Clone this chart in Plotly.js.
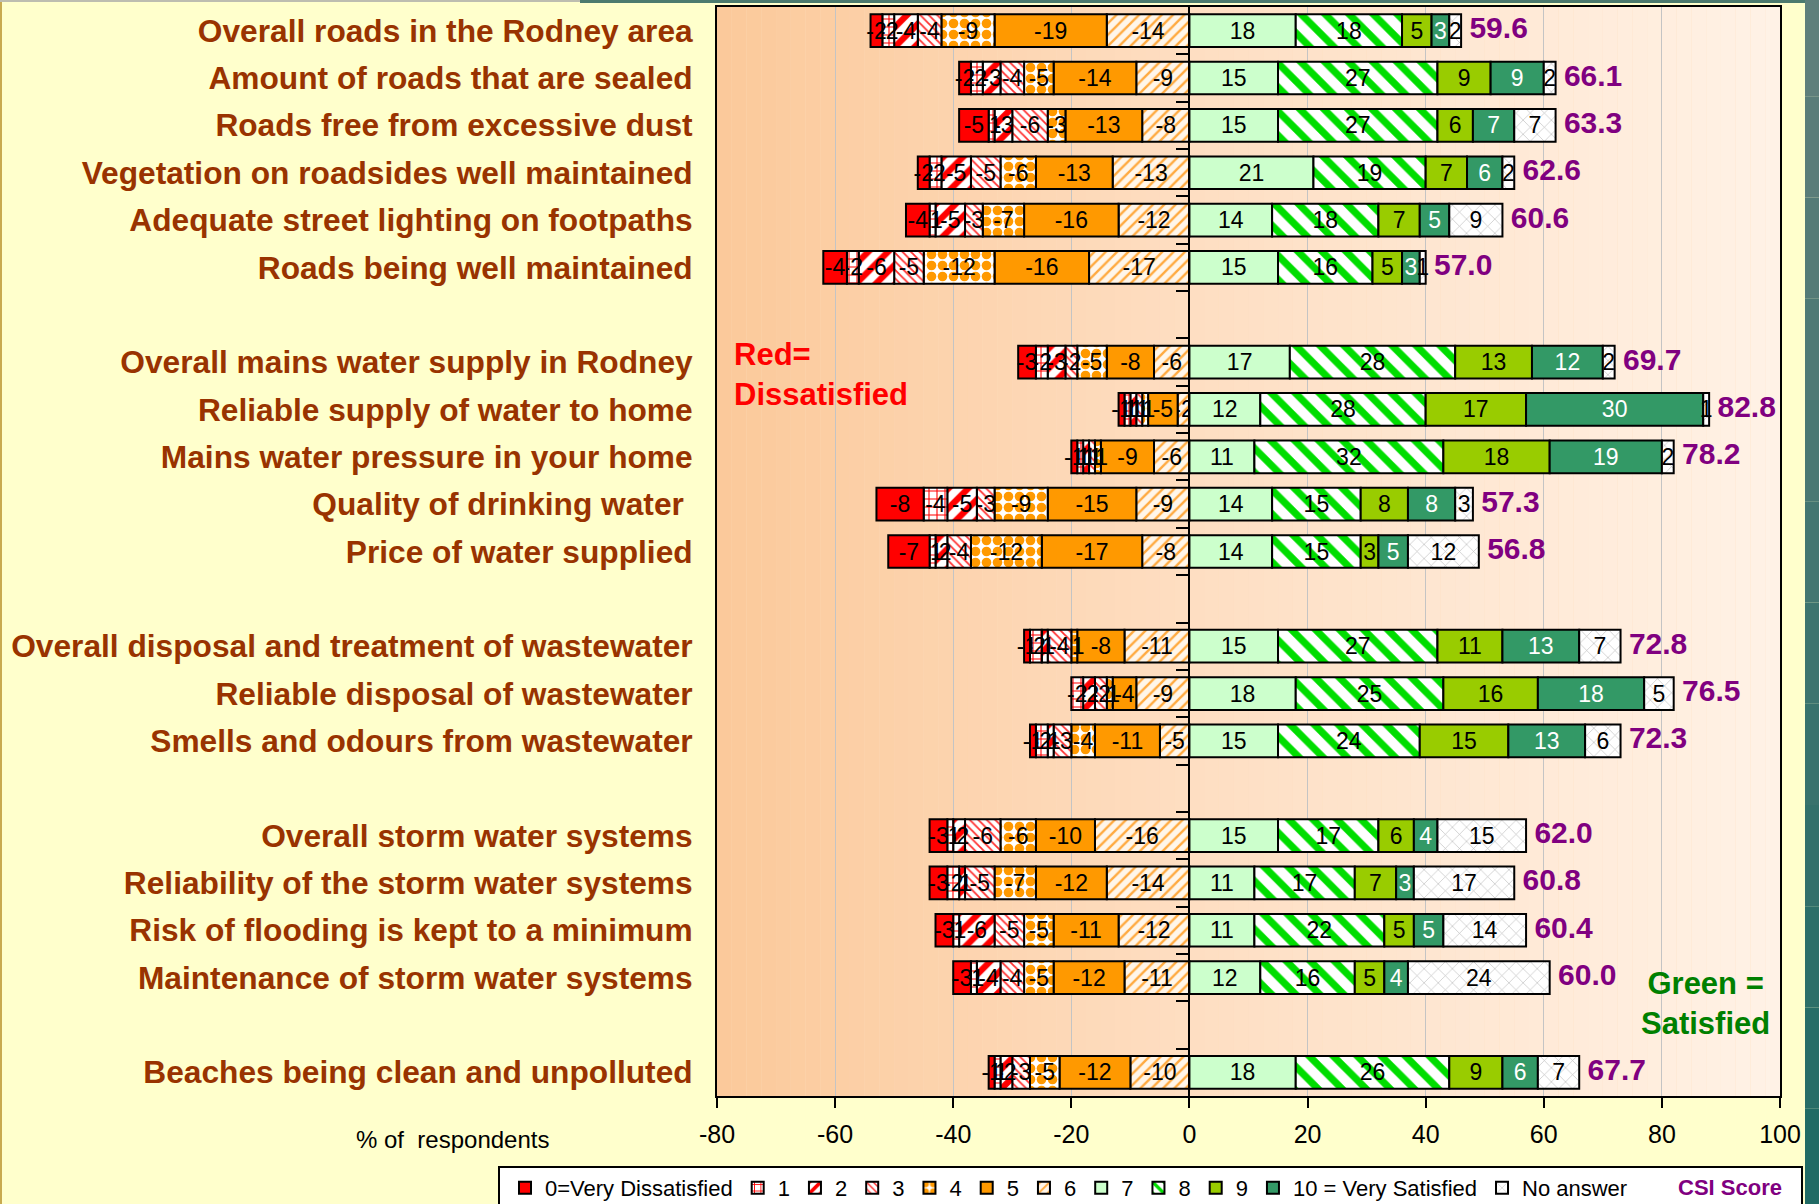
<!DOCTYPE html>
<html>
<head>
<meta charset="utf-8">
<script src="https://cdn.plot.ly/plotly-3.0.1.min.js"></script>
<style>
html,body{margin:0;padding:0;background:#FFFFCC;}
#chart{width:1819px;height:1204px;}
</style>
</head>
<body>
<div id="chart"></div>
<script>
// ---------------- DATA ----------------
const categories = [
  "Overall roads in the Rodney area",
  "Amount of roads that are sealed",
  "Roads free from excessive dust",
  "Vegetation on roadsides well maintained",
  "Adequate street lighting on footpaths",
  "Roads being well maintained",
  "Overall mains water supply in Rodney",
  "Reliable supply of water to home",
  "Mains water pressure in your home",
  "Quality of drinking water\u00a0",
  "Price of water supplied",
  "Overall disposal and treatment of wastewater",
  "Reliable disposal of wastewater",
  "Smells and odours from wastewater",
  "Overall storm water systems",
  "Reliability of the storm water systems",
  "Risk of flooding is kept to a minimum",
  "Maintenance of storm water systems",
  "Beaches being clean and unpolluted"
];
const groupSizes = [6, 5, 3, 4, 1];

const seriesNames = ["0=Very Dissatisfied", "1", "2", "3", "4", "5", "6", "7", "8", "9", "10 = Very Satisfied", "No answer"];

const s0  = [-2, -2, -5, -2, -4, -4, -3, -1, -1, -8, -7, -1, 0, -1, -3, -3, -3, -3, -1];
const s1  = [-2, -2, -1, -2, -1, -2, -2, -1, -1, -4, -1, -2, -2, -2, -1, -2, -1, -1, -1];
const s2  = [-4, -3, -3, -5, -5, -6, -3, -1, -1, -5, -2, -1, -2, -1, -2, -1, -6, -4, -2];
const s3  = [-4, -4, -6, -5, -3, -5, -2, -1, -1, -3, -4, -4, -2, -3, -6, -5, -5, -4, -3];
const s4  = [-9, -5, -3, -6, -7, -12, -5, -1, -1, -9, -12, -1, -1, -4, -6, -7, -5, -5, -5];
const s5  = [-19, -14, -13, -13, -16, -16, -8, -5, -9, -15, -17, -8, -4, -11, -10, -12, -11, -12, -12];
const s6  = [-14, -9, -8, -13, -12, -17, -6, -2, -6, -9, -8, -11, -9, -5, -16, -14, -12, -11, -10];
const s7  = [18, 15, 15, 21, 14, 15, 17, 12, 11, 14, 14, 15, 18, 15, 15, 11, 11, 12, 18];
const s8  = [18, 27, 27, 19, 18, 16, 28, 28, 32, 15, 15, 27, 25, 24, 17, 17, 22, 16, 26];
const s9  = [5, 9, 6, 7, 7, 5, 13, 17, 18, 8, 3, 11, 16, 15, 6, 7, 5, 5, 9];
const s10 = [3, 9, 7, 6, 5, 3, 12, 30, 19, 8, 5, 13, 18, 13, 4, 3, 5, 4, 6];
const sNA = [2, 2, 7, 2, 9, 1, 2, 1, 2, 3, 12, 7, 5, 6, 15, 17, 14, 24, 7];
const csi = [59.6, 66.1, 63.3, 62.6, 60.6, 57.0, 69.7, 82.8, 78.2, 57.3, 56.8, 72.8, 76.5, 72.3, 62.0, 60.8, 60.4, 60.0, 67.7];

const xTicks = [-80, -60, -40, -20, 0, 20, 40, 60, 80, 100];

// ---------------- STYLES ----------------
const FONT = "Liberation Sans, Arial, sans-serif";
const styles = [
  {color: "#FF0000"},
  {color: "#FFFFFF", pattern: {shape: "+", fgcolor: "#FF0000", bgcolor: "#FFFFFF", size: 8, solidity: 0.25}},
  {color: "#FFFFFF", pattern: {shape: "/", fgcolor: "#FF0000", bgcolor: "#FFFFFF", size: 14, solidity: 0.45}},
  {color: "#FFFFFF", pattern: {shape: "\\", fgcolor: "#FF3030", bgcolor: "#FFFFFF", size: 6, solidity: 0.3}},
  {color: "#FFFFFF", pattern: {shape: ".", fgcolor: "#FF9900", bgcolor: "#FFFFFF", size: 11, solidity: 0.6}},
  {color: "#FF9900"},
  {color: "#FFF6EA", pattern: {shape: "/", fgcolor: "#FFAA40", bgcolor: "#FFF6EA", size: 8, solidity: 0.3}},
  {color: "#CCFFCC"},
  {color: "#FFFFFF", pattern: {shape: "\\", fgcolor: "#00DD00", bgcolor: "#FFFFFF", size: 17, solidity: 0.42}},
  {color: "#99CC00"},
  {color: "#339966"},
  {color: "#FFFFFF", pattern: {shape: "x", fgcolor: "#BBBBBB", bgcolor: "#FFFFFF", size: 10, solidity: 0.12}}
];

// ---------------- BUILD ----------------
const series = [s0, s1, s2, s3, s4, s5, s6, s7, s8, s9, s10, sNA];

const slots = [];
let k = 0;
groupSizes.forEach(n => { for (let i = 0; i < n; i++) slots.push(k++); k++; });
const nSlots = slots[slots.length - 1] + 1;
const boundaries = [];
for (let b = 0; b < nSlots - 1; b++) boundaries.push(b + 0.5);

const drawOrder = [6, 5, 4, 3, 2, 1, 0, 7, 8, 9, 10, 11];
const traces = drawOrder.map(i => {
  const st = styles[i];
  const marker = {color: st.color, line: {color: "#000000", width: 2}};
  if (st.pattern) marker.pattern = Object.assign({fillmode: "replace"}, st.pattern);
  return {
    type: "bar", orientation: "h",
    x: series[i], y: slots,
    name: seriesNames[i], legendrank: i + 1,
    text: series[i].map(v => String(v)),
    textposition: "inside", insidetextanchor: "middle", textangle: 0,
    constraintext: "none", cliponaxis: false,
    textfont: {family: FONT, size: 23, color: i === 10 ? "#FFFFFF" : "#000000"},
    marker: marker, hoverinfo: "skip"
  };
});

const posTotals = slots.map((_, j) => s7[j] + s8[j] + s9[j] + s10[j] + sNA[j]);
traces.push({
  type: "scatter", mode: "text", yaxis: "y2",
  x: posTotals, y: slots,
  text: csi.map(v => "\u00a0" + v.toFixed(1)),
  textposition: "middle right",
  textfont: {family: FONT, size: 30, color: "#800080", weight: "bold"},
  name: "CSI Score", showlegend: false, cliponaxis: false, hoverinfo: "skip"
});

// pixel -> paper helpers for decoration
const L = 717, T = 7, W = 1063, H = 1089;
const px = v => (v - L) / W;
const py = v => (T + H - v) / H;

const shapes = [];
// plot background gradient
function lerp(a, b, t) { return Math.round(a + (b - a) * t); }
const cA = [251, 201, 154], cB = [254, 222, 194], cC = [255, 242, 230];
for (let x = -80; x < 100; x += 2.5) {
  const m = x + 1.25;
  let c;
  if (m < 0) { const t = (m + 80) / 80; c = [0,1,2].map(q => lerp(cA[q], cB[q], t)); }
  else { const t = m / 100; c = [0,1,2].map(q => lerp(cB[q], cC[q], t)); }
  shapes.push({type: "rect", xref: "x", yref: "paper", x0: x, x1: x + 2.5, y0: 0, y1: 1,
    fillcolor: `rgb(${c[0]},${c[1]},${c[2]})`, line: {width: 0}, layer: "below"});
}
// slide decorations
shapes.push({type: "rect", xref: "paper", yref: "paper", x0: px(-5), x1: px(2), y0: py(1210), y1: py(-5),
  fillcolor: "#C8AA50", line: {width: 0}, layer: "above"});
shapes.push({type: "rect", xref: "paper", yref: "paper", x0: px(-5), x1: px(580), y0: py(2), y1: py(-5),
  fillcolor: "#BDBDB0", line: {width: 0}, layer: "above"});
shapes.push({type: "rect", xref: "paper", yref: "paper", x0: px(580), x1: px(1825), y0: py(3), y1: py(-5),
  fillcolor: "#4C7A6E", line: {width: 0}, layer: "above"});
const tTop = [98, 128, 124], tBot = [30, 106, 100];
for (let b = 0; b < 12; b++) {
  const t = (b + 0.5) / 12;
  const c = [0,1,2].map(q => lerp(tTop[q], tBot[q], t));
  shapes.push({type: "rect", xref: "paper", yref: "paper", x0: px(1805), x1: px(1830),
    y0: py(-5 + (b + 1) * 1215 / 12), y1: py(-5 + b * 1215 / 12),
    fillcolor: `rgb(${c[0]},${c[1]},${c[2]})`, line: {width: 0}, layer: "above"});
}
// legend box
shapes.push({type: "rect", xref: "paper", yref: "paper", x0: px(499), x1: px(1802), y0: py(1220), y1: py(1167),
  fillcolor: "#FFFFFF", line: {color: "#000000", width: 2}, layer: "above"});

const annotations = [
  {xref: "paper", yref: "paper", x: px(732), y: py(335), xanchor: "left", yanchor: "top", align: "left",
   text: "Red=<br>Dissatisfied", showarrow: false, font: {family: FONT, size: 31, color: "#FF0000", weight: "bold"}},
  {xref: "paper", yref: "paper", x: px(1705), y: py(964), xanchor: "center", yanchor: "top", align: "center",
   text: "Green =<br>Satisfied", showarrow: false, font: {family: FONT, size: 31, color: "#008000", weight: "bold"}},
  {xref: "paper", yref: "paper", x: px(452), y: py(1139), xanchor: "center", yanchor: "middle",
   text: "% of\u00a0 respondents", showarrow: false, font: {family: FONT, size: 24, color: "#000000"}},
  {xref: "paper", yref: "paper", x: px(1730), y: py(1187), xanchor: "center", yanchor: "middle",
   text: "CSI Score", showarrow: false, font: {family: FONT, size: 22, color: "#800080", weight: "bold"}}
];

const layout = {
  width: 1819, height: 1204,
  paper_bgcolor: "#FFFFCC", plot_bgcolor: "#FDDDBE",
  margin: {l: L, r: 1819 - L - W, t: T, b: 1204 - T - H, autoexpand: false},
  barmode: "relative", bargap: 0.31,
  font: {family: FONT, color: "#000000"},
  showlegend: true,
  uniformtext: {mode: "show", minsize: 23},
  xaxis: {
    range: [-80, 100], tickvals: xTicks, ticktext: xTicks.map(String),
    ticks: "outside", ticklen: 10, tickwidth: 2, tickcolor: "#000000",
    showline: true, mirror: true, linecolor: "#000000", linewidth: 2,
    showgrid: true, gridcolor: "#C4C4C4", gridwidth: 1, zeroline: false,
    tickfont: {family: FONT, size: 25, color: "#000000"}, ticklabelstandoff: 5, fixedrange: true
  },
  yaxis: {
    range: [nSlots - 0.5, -0.5], tickvals: slots, ticktext: categories,
    ticks: "", showline: true, mirror: true, linecolor: "#000000", linewidth: 2,
    showgrid: false, zeroline: false,
    tickfont: {family: FONT, size: 31.7, color: "#993300", weight: "bold"},
    ticklabelstandoff: 16, fixedrange: true
  },
  yaxis2: {
    overlaying: "y", anchor: "free", position: 80 / 180, side: "left",
    range: [nSlots - 0.5, -0.5], tickvals: boundaries,
    ticks: "outside", ticklen: 12, tickwidth: 2, tickcolor: "#000000",
    showticklabels: false, showline: true, linecolor: "#000000", linewidth: 2,
    showgrid: false, zeroline: false, fixedrange: true
  },
  legend: {
    orientation: "h", xref: "paper", yref: "paper",
    x: px(505), xanchor: "left", y: py(1167), yanchor: "top",
    bgcolor: "rgba(0,0,0,0)", borderwidth: 0,
    font: {family: FONT, size: 22, color: "#000000"},
    itemwidth: 30, traceorder: "normal", itemclick: false, itemdoubleclick: false
  },
  shapes: shapes,
  annotations: annotations
};

Plotly.newPlot("chart", traces, layout, {staticPlot: true, displayModeBar: false});
</script>
</body>
</html>
